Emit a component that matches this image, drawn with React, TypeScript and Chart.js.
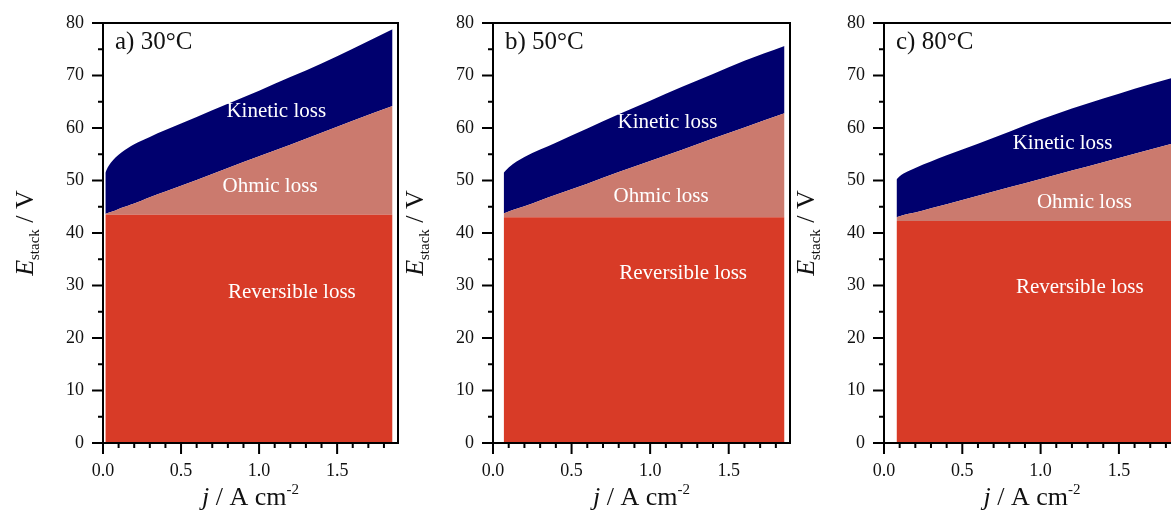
import React, { useEffect, useRef } from "react";
import { Chart, registerables } from "chart.js";

Chart.register(...registerables);

// ---------- data ----------
// Panel a) 30 °C
const J_A = [0.015, 0.03, 0.05, 0.08, 0.12, 0.16, 0.2, 0.25, 0.3, 0.4, 0.6, 0.8, 1.0, 1.2, 1.4, 1.6, 1.855];
const REV_A = [43.5, 43.5, 43.5, 43.5, 43.5, 43.5, 43.5, 43.5, 43.5, 43.5, 43.5, 43.5, 43.5, 43.5, 43.5, 43.5, 43.5];
const OHM_A = [43.6, 43.8, 44.0, 44.3, 44.8, 45.2, 45.6, 46.2, 46.8, 47.9, 50.1, 52.4, 54.6, 56.8, 59.1, 61.4, 64.2];
const KIN_A = [51.5, 52.5, 53.4, 54.4, 55.4, 56.2, 56.9, 57.6, 58.3, 59.6, 62.1, 64.6, 67.1, 69.7, 72.3, 75.1, 78.8];

// Panel b) 50 °C
const J_B = [0.068, 0.1, 0.15, 0.2, 0.3, 0.4, 0.6, 0.8, 1.0, 1.2, 1.4, 1.6, 1.855];
const REV_B = [43.0, 43.0, 43.0, 43.0, 43.0, 43.0, 43.0, 43.0, 43.0, 43.0, 43.0, 43.0, 43.0];
const OHM_B = [43.7, 44.1, 44.6, 45.1, 46.2, 47.3, 49.4, 51.6, 53.7, 55.8, 58.0, 60.1, 62.8];
const KIN_B = [51.5, 52.5, 53.6, 54.5, 55.9, 57.2, 59.9, 62.6, 65.2, 67.8, 70.3, 72.8, 75.6];

// Panel c) 80 °C
const J_C = [0.08, 0.1, 0.15, 0.2, 0.3, 0.4, 0.6, 0.8, 1.0, 1.2, 1.4, 1.6, 1.85];
const REV_C = [42.3, 42.3, 42.3, 42.3, 42.3, 42.3, 42.3, 42.3, 42.3, 42.3, 42.3, 42.3, 42.3];
const OHM_C = [43.0, 43.2, 43.6, 43.9, 44.7, 45.5, 47.1, 48.7, 50.3, 51.9, 53.5, 55.1, 57.1];
const KIN_C = [50.2, 50.8, 51.7, 52.4, 53.6, 54.8, 57.0, 59.3, 61.6, 63.7, 65.6, 67.5, 69.6];

// ---------- axes ----------
const X_MIN = 0;
const X_MAX = 1.89;
const Y_MIN = 0;
const Y_MAX = 80;
const X_MAJOR = [0, 0.5, 1.0, 1.5];
const X_MINOR = [0.1, 0.2, 0.3, 0.4, 0.6, 0.7, 0.8, 0.9, 1.1, 1.2, 1.3, 1.4, 1.6, 1.7, 1.8];
const Y_MAJOR = [0, 10, 20, 30, 40, 50, 60, 70, 80];
const Y_MINOR = [5, 15, 25, 35, 45, 55, 65, 75];

// ---------- text ----------
const PANEL_TITLES = ["a) 30°C", "b) 50°C", "c) 80°C"];
const REGION_NAMES = ["Kinetic loss", "Ohmic loss", "Reversible loss"];
// label anchors in data coordinates [j, E] for each region name
const LABEL_AT_A = [[1.11, 63.2], [1.07, 48.8], [1.21, 28.6]];
const LABEL_AT_B = [[1.11, 61.1], [1.07, 47.0], [1.21, 32.2]];
const LABEL_AT_C = [[1.14, 57.1], [1.28, 45.9], [1.25, 29.7]];

// ---------- style ----------
const RED = "#D83B27";
const SALMON = "#CB7A6E";
const NAVY = "#00006E";
const SERIF = '"Liberation Serif", serif';

const PANELS = [
  { left: 0, width: 400, padRight: 2, j: J_A, rev: REV_A, ohm: OHM_A, kin: KIN_A, title: PANEL_TITLES[0], at: LABEL_AT_A },
  { left: 390, width: 410, padRight: 10, j: J_B, rev: REV_B, ohm: OHM_B, kin: KIN_B, title: PANEL_TITLES[1], at: LABEL_AT_B },
  { left: 781, width: 410, padRight: 11, j: J_C, rev: REV_C, ohm: OHM_C, kin: KIN_C, title: PANEL_TITLES[2], at: LABEL_AT_C },
];

const toPts = (xs: number[], ys: number[]) => xs.map((x, i) => ({ x, y: ys[i] }));

const decoPlugin = {
  id: "deco",
  afterDraw(chart: any, _args: any, opts: any) {
    const { ctx, chartArea: ca, scales } = chart;
    const x = scales.x;
    const y = scales.y;
    ctx.save();

    // region labels
    ctx.fillStyle = "#ffffff";
    ctx.font = `21px ${SERIF}`;
    ctx.textAlign = "center";
    ctx.textBaseline = "middle";
    REGION_NAMES.forEach((name, i) => {
      const [jv, ev] = opts.at[i];
      ctx.fillText(name, x.getPixelForValue(jv), y.getPixelForValue(ev));
    });

    // panel title
    ctx.fillStyle = "#111";
    ctx.font = `25px ${SERIF}`;
    ctx.textAlign = "left";
    ctx.textBaseline = "alphabetic";
    ctx.fillText(opts.title, ca.left + 12, ca.top + 26);

    // frame
    ctx.strokeStyle = "#000";
    ctx.lineWidth = 2;
    ctx.strokeRect(ca.left, ca.top, ca.right - ca.left, ca.bottom - ca.top);

    // ticks
    ctx.beginPath();
    Y_MAJOR.forEach((v) => {
      const p = y.getPixelForValue(v);
      ctx.moveTo(ca.left - 11, p);
      ctx.lineTo(ca.left, p);
    });
    Y_MINOR.forEach((v) => {
      const p = y.getPixelForValue(v);
      ctx.moveTo(ca.left - 5, p);
      ctx.lineTo(ca.left, p);
    });
    X_MAJOR.forEach((v) => {
      const p = x.getPixelForValue(v);
      ctx.moveTo(p, ca.bottom);
      ctx.lineTo(p, ca.bottom + 11);
    });
    X_MINOR.forEach((v) => {
      const p = x.getPixelForValue(v);
      ctx.moveTo(p, ca.bottom);
      ctx.lineTo(p, ca.bottom + 5);
    });
    ctx.stroke();

    // x title: j / A cm^-2
    {
      const big = 26;
      const small = 15;
      const parts = [
        { t: "j", f: `italic ${big}px ${SERIF}`, dy: 0 },
        { t: " / A cm", f: `${big}px ${SERIF}`, dy: 0 },
        { t: "-2", f: `${small}px ${SERIF}`, dy: -11 },
      ];
      let total = 0;
      const widths = parts.map((p) => {
        ctx.font = p.f;
        const w = ctx.measureText(p.t).width;
        total += w;
        return w;
      });
      let cx = (ca.left + ca.right) / 2 - total / 2;
      const base = ca.bottom + 62;
      ctx.fillStyle = "#111";
      ctx.textAlign = "left";
      parts.forEach((p, i) => {
        ctx.font = p.f;
        ctx.fillText(p.t, cx, base + p.dy);
        cx += widths[i];
      });
    }

    // y title: E_stack / V (rotated)
    {
      const big = 26;
      const small = 15;
      const parts = [
        { t: "E", f: `italic ${big}px ${SERIF}`, dy: 0 },
        { t: "stack", f: `${small}px ${SERIF}`, dy: 6 },
        { t: " / V", f: `${big}px ${SERIF}`, dy: 0 },
      ];
      let total = 0;
      const widths = parts.map((p) => {
        ctx.font = p.f;
        const w = ctx.measureText(p.t).width;
        total += w;
        return w;
      });
      ctx.translate(ca.left - 70, (ca.top + ca.bottom) / 2);
      ctx.rotate(-Math.PI / 2);
      let cx = -total / 2;
      ctx.fillStyle = "#111";
      parts.forEach((p, i) => {
        ctx.font = p.f;
        ctx.fillText(p.t, cx, p.dy);
        cx += widths[i];
      });
    }

    ctx.restore();
  },
};

function Panel({ cfg }: { cfg: any }) {
  const ref = useRef<HTMLCanvasElement>(null);
  useEffect(() => {
    const common = { borderWidth: 0, borderColor: "rgba(0,0,0,0)", pointRadius: 0, cubicInterpolationMode: "monotone" as const };
    const chart = new Chart(ref.current!, {
      type: "line",
      data: {
        datasets: [
          { label: "Reversible loss", data: toPts(cfg.j, cfg.rev), fill: "origin", backgroundColor: RED, ...common },
          { label: "Ohmic loss", data: toPts(cfg.j, cfg.ohm), fill: "-1", backgroundColor: SALMON, ...common },
          { label: "Kinetic loss", data: toPts(cfg.j, cfg.kin), fill: "-1", backgroundColor: NAVY, ...common },
        ],
      },
      options: {
        responsive: false,
        animation: false,
        layout: { padding: { left: 0, top: 23, right: cfg.padRight, bottom: 0 } },
        plugins: {
          legend: { display: false },
          tooltip: { enabled: false },
          deco: { title: cfg.title, at: cfg.at },
        } as any,
        scales: {
          x: {
            type: "linear",
            min: X_MIN,
            max: X_MAX,
            grid: { display: false },
            border: { display: false },
            ticks: {
              stepSize: 0.5,
              includeBounds: false,
              padding: 9,
              maxRotation: 0,
              autoSkip: false,
              color: "#111",
              font: { family: SERIF, size: 18 },
              callback: (v: any) => Number(v).toFixed(1),
            },
            afterFit: (s: any) => {
              s.height = 67;
              s.paddingLeft = 0;
              s.paddingRight = 0;
            },
          },
          y: {
            min: Y_MIN,
            max: Y_MAX,
            grid: { display: false },
            border: { display: false },
            ticks: {
              stepSize: 10,
              padding: 11,
              color: "#111",
              font: { family: SERIF, size: 18 },
            },
            afterFit: (s: any) => {
              s.width = 103;
              s.paddingTop = 0;
              s.paddingBottom = 0;
            },
          },
        },
      },
      plugins: [decoPlugin],
    });
    return () => chart.destroy();
  }, []);
  return (
    <canvas
      ref={ref}
      width={cfg.width}
      height={510}
      style={{ position: "absolute", left: cfg.left, top: 0, width: cfg.width, height: 510 }}
    />
  );
}

export default function App() {
  return (
    <div style={{ position: "fixed", left: 0, top: 0, width: 1171, height: 510, overflow: "hidden", background: "#fff" }}>
      {PANELS.map((p, i) => (
        <Panel key={i} cfg={p} />
      ))}
    </div>
  );
}
